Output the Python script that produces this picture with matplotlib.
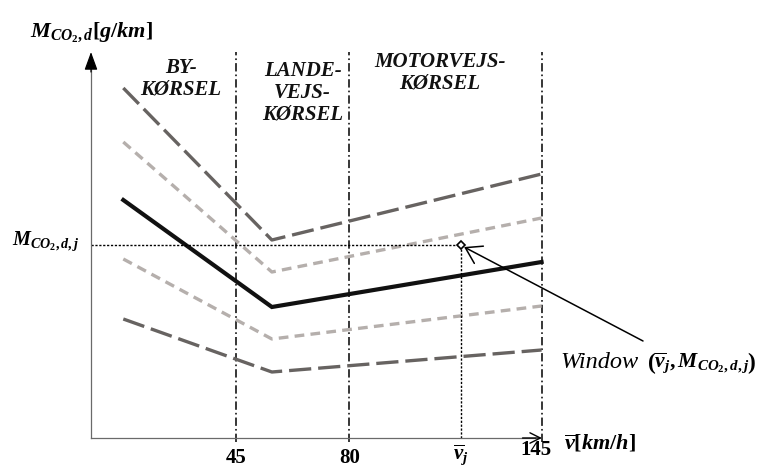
import matplotlib
matplotlib.use('Agg')
import matplotlib.pyplot as plt

plt.rcParams['font.family'] = ['Liberation Serif', 'DejaVu Serif']
plt.rcParams['mathtext.fontset'] = 'custom'
plt.rcParams['mathtext.rm'] = 'Liberation Serif:bold'
plt.rcParams['mathtext.it'] = 'Liberation Serif:italic:bold'
plt.rcParams['mathtext.bf'] = 'Liberation Serif:bold'
plt.rcParams['lines.scale_dashes'] = False

# ---- data (schematic values) ----
speed_pts = [10, 56, 139.5]                 # start, minimum, end of each curve
upper_dark = [175, 99, 132]
upper_light = [148, 83, 110]
mean_curve = [119, 65.5, 88]
lower_light = [89.5, 49.5, 66]
lower_dark = [59.5, 33, 44]

zone_bounds = [45, 80, 139.5]
zone_names = ['BY-\nKØRSEL', 'LANDE-\nVEJS-\nKØRSEL', 'MOTORVEJS-\nKØRSEL']
zone_label_x = [27.9, 65.5, 108]
zone_label_y = [179.5, 172.5, 182.5]

window_v = 114.5
window_m = 96.5

xtick_pos = [45, 80]
xtick_labels = ['45', '80']
vj_label = r'$\overline{v}_j$'
x_end = 139.6
x_end_label = '145'
y_top = 193

fig = plt.figure(figsize=(7.61, 4.70), dpi=100)
ax = fig.add_axes([0, 0, 1, 1])
ax.set_xlim(-91 / 3.23, (761 - 91) / 3.23)
ax.set_ylim(-16, 219)

# axes lines
for s in ['top', 'right']:
    ax.spines[s].set_visible(False)
ax.spines['left'].set_position(('data', 0))
ax.spines['bottom'].set_position(('data', 0))
ax.spines['left'].set_bounds(0, y_top - 5)
ax.spines['bottom'].set_bounds(0, x_end - 2)
for s in ['left', 'bottom']:
    ax.spines[s].set_color('#6a6a6a')
    ax.spines[s].set_linewidth(0.9)

ax.annotate('', xy=(0, y_top), xytext=(0, y_top - 10),
            arrowprops=dict(arrowstyle='-|>,head_length=0.55,head_width=0.2',
                            mutation_scale=20, color='black', lw=0.9,
                            shrinkA=0, shrinkB=0))
ax.annotate('', xy=(x_end, 0), xytext=(x_end - 6, 0),
            arrowprops=dict(arrowstyle='->,head_length=0.5,head_width=0.25',
                            mutation_scale=15, color='black', lw=1.0,
                            shrinkA=0, shrinkB=0))

# zone boundaries
for xb in zone_bounds:
    ax.plot([xb, xb], [-2, 193], color='black', lw=1.1,
            linestyle=(0, (6, 2.2, 1.2, 2.2)))

# curves
dark = '#676361'
light = '#b5afac'
ax.plot(speed_pts, upper_dark, color=dark, lw=2.4, linestyle=(0, (16, 5)),
        dash_capstyle='butt')
ax.plot(speed_pts, upper_light, color=light, lw=2.4, linestyle=(0, (7, 4.5)),
        dash_capstyle='butt')
ax.plot(speed_pts, mean_curve, color='#111111', lw=3.0, solid_joinstyle='miter')
ax.plot(speed_pts, lower_light, color=light, lw=2.4, linestyle=(0, (7, 4.5)),
        dash_capstyle='butt')
ax.plot(speed_pts, lower_dark, color=dark, lw=2.4, linestyle=(0, (16, 5)),
        dash_capstyle='butt')

# window point
ax.plot([0, window_v], [window_m, window_m], color='black', lw=1.0,
        linestyle=(0, (1.6, 1.2)))
ax.plot([window_v, window_v], [0, window_m], color='black', lw=1.0,
        linestyle=(0, (1.6, 1.2)))
ax.plot([window_v], [window_m], marker='D', ms=4.5, mfc='white', mec='black',
        mew=1.2)
ax.annotate('', xy=(window_v + 1.0, window_m - 1.0), xytext=(170.9, 48.5),
            arrowprops=dict(arrowstyle='->,head_length=0.55,head_width=0.35',
                            mutation_scale=20, color='black', lw=1.1,
                            shrinkA=0, shrinkB=0))
ax.text(145.2, 35, 'Window', fontsize=17.5, fontstyle='italic',
        ha='left', va='baseline')
ax.text(172.0, 35, r'$\left(\overline{v}_j, M_{CO_2,d,j}\right)$', fontsize=15.5,
        ha='left', va='baseline')

# zone labels
for name, xl, yl in zip(zone_names, zone_label_x, zone_label_y):
    ax.text(xl, yl, name, fontsize=15, fontweight='bold', fontstyle='italic',
            ha='center', va='center', linespacing=1.1, color='#111111')

# ticks
ax.set_xticks(xtick_pos, xtick_labels)
ax.tick_params(axis='x', length=0, pad=7.5, labelsize=15)
for lab in ax.get_xticklabels():
    lab.set_fontweight('bold')
ax.set_yticks([window_m], [r'$M_{CO_2,d,j}$'])
ax.tick_params(axis='y', length=0, pad=8, labelsize=14.5)
for lab in ax.get_yticklabels():
    lab.set_va('baseline')

ax.text(window_v, -10.5, vj_label, fontsize=15, ha='center', va='baseline')
ax.text(x_end - 2, -6, x_end_label, fontsize=15, fontweight='bold',
        ha='center', va='center')
ax.text(146.5, -3, r'$\overline{v}[km/h]$', fontsize=16, ha='left', va='center')
ax.text(-18.9, 200.5, r'$M_{CO_2,d}[g/km]$', fontsize=16, ha='left',
        va='baseline')

fig.savefig('out.png', dpi=100)
